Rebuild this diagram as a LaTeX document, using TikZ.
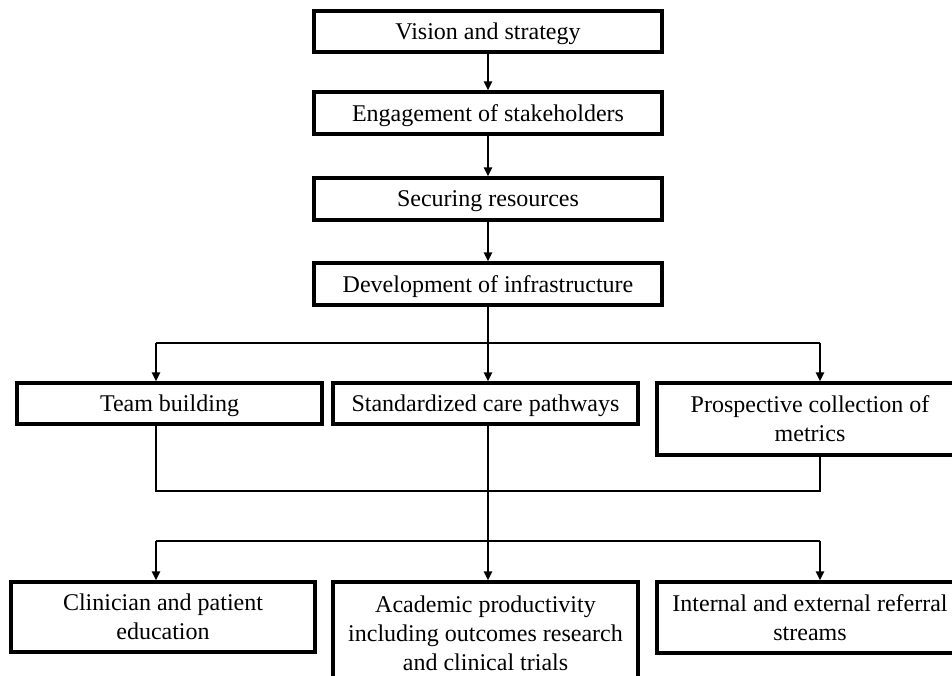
\documentclass[tikz,border=0pt]{standalone}
\usepackage{fontspec}
\setmainfont{Liberation Serif}
\usetikzlibrary{arrows.meta}
\begin{document}
\begin{tikzpicture}[x=1pt,y=-1pt,
  box/.style={draw, line width=3.2pt, inner sep=0pt, align=center,
    font=\fontsize{24}{29}\selectfont},
  oneline/.style={text depth=0pt},
  conn/.style={line width=2pt},
  arr/.style={conn, -{Triangle[length=9pt,width=8pt]}}]
\useasboundingbox (0,0) rectangle (952,676);
\clip (0,0) rectangle (952,676);
\fill[white] (0,0) rectangle (952,676);
% top chain
\node[box, oneline, minimum width=348pt, minimum height=41pt] (vis) at (488,31.5) {Vision and strategy};
\node[box, oneline, minimum width=348pt, minimum height=42pt] (eng) at (488,113) {Engagement of stakeholders};
\node[box, oneline, minimum width=348pt, minimum height=42pt] (sec) at (488,199) {Securing resources};
\node[box, oneline, minimum width=348pt, minimum height=42pt] (dev) at (488,284) {Development of infrastructure};
% middle row
\node[box, oneline, minimum width=305pt, minimum height=41pt] (team) at (169.5,403.5) {Team building};
\node[box, oneline, minimum width=305pt, minimum height=41pt] (std) at (485.5,403.5) {Standardized care pathways};
\node[box, minimum width=306pt, minimum height=72pt] (pro) at (810,419) {Prospective collection of\\metrics};
% bottom row
\node[box, minimum width=304pt, minimum height=70pt] (cli) at (163,617) {Clinician and patient\\education};
\node[box, minimum width=305pt, minimum height=102pt] (aca) at (485.5,633) {Academic productivity\\including outcomes research\\and clinical trials};
\node[box, minimum width=306pt, minimum height=71pt] (int) at (810,617.5) {Internal and external referral\\streams};
% junction points
\coordinate (s1) at (488,343);
\coordinate (s1l) at (156,343);
\coordinate (s1r) at (820,343);
\coordinate (m1) at (488,491);
\coordinate (m1l) at (156,491);
\coordinate (m1r) at (820,491);
\coordinate (m2) at (488,541);
\coordinate (m2l) at (156,541);
\coordinate (m2r) at (820,541);
% connectors
\draw[arr] (vis) -- (eng);
\draw[arr] (eng) -- (sec);
\draw[arr] (sec) -- (dev);
\draw[conn] (dev.south) -- (s1);
\draw[conn] (s1l) -- (s1r);
\draw[arr] (s1l) -- (s1l |- team.north);
\draw[arr] (s1) -- (s1 |- std.north);
\draw[arr] (s1r) -- (s1r |- pro.north);
\draw[conn] (team.south -| m1l) -- (m1l) -- (m1r) -- (pro.south -| m1r);
\draw[conn] (std.south -| m1) -- (m2);
\draw[conn] (m2l) -- (m2r);
\draw[arr] (m2l) -- (m2l |- cli.north);
\draw[arr] (m2) -- (m2 |- aca.north);
\draw[arr] (m2r) -- (m2r |- int.north);
\end{tikzpicture}
\end{document}
